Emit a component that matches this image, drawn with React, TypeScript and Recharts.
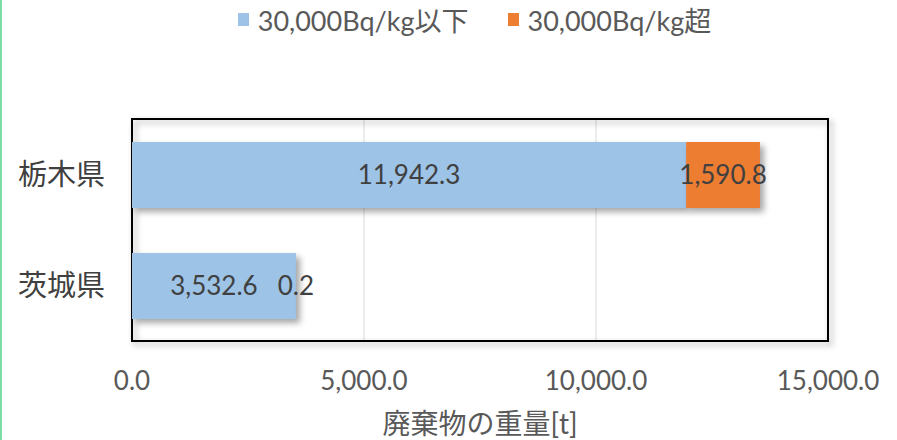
import React from 'react';
import {
    BarChart,
    Bar,
    XAxis,
    YAxis,
    CartesianGrid,
    Legend,
    LabelList,
    ReferenceArea,
} from 'recharts';

const prefectures = ['栃木県', '茨城県'];
const belowLimit = [11942.3, 3532.6];
const aboveLimit = [1590.8, 0.2];
const xTicks = [0, 5000, 10000, 15000];

const SERIES = [
    { key: 'below', name: '30,000Bq/kg以下', color: '#9DC3E6' },
    { key: 'above', name: '30,000Bq/kg超', color: '#ED7D31' },
];

const FONT = 'Lato, "Noto Sans CJK JP", sans-serif';

const data = prefectures.map((name, i) => ({
    name,
    below: belowLimit[i],
    above: aboveLimit[i],
}));

const fmt1 = (v: number) =>
    v.toLocaleString('en-US', { minimumFractionDigits: 1, maximumFractionDigits: 1 });

const ShadowBar = (props: any) => {
    const { x, y, width, height, fill } = props;
    if (!width || width <= 0) return <g />;
    return (
        <rect
            x={x}
            y={y}
            width={width}
            height={height}
            fill={fill}
            style={{ filter: 'drop-shadow(4px 4px 3px rgba(0,0,0,0.35))' }}
        />
    );
};

const PlotBorder = (props: any) => {
    const { x, y, width, height } = props;
    return (
        <rect
            x={x}
            y={y}
            width={width}
            height={height}
            fill="none"
            stroke="#000"
            strokeWidth={2}
            style={{ filter: 'drop-shadow(3px 3px 3px rgba(0,0,0,0.35))' }}
        />
    );
};

const LegendContent = () => (
    <div
        style={{
            display: 'flex',
            justifyContent: 'center',
            alignItems: 'center',
            paddingLeft: 52,
            fontFamily: FONT,
            fontSize: 27,
            color: '#595959',
        }}
    >
        {SERIES.map((s, i) => (
            <div
                key={s.key}
                style={{ display: 'flex', alignItems: 'center', marginLeft: i ? 39 : 0 }}
            >
                <span
                    style={{
                        display: 'inline-block',
                        width: 11,
                        height: 13,
                        background: s.color,
                        marginRight: 9,
                    }}
                />
                <span>{s.name}</span>
            </div>
        ))}
    </div>
);

export default function App() {
    return (
        <div style={{ position: 'absolute', left: 0, top: 0, width: 897, height: 440, background: '#fff' }}>
            {/* green edge on the left */}
            <div style={{ position: 'absolute', left: 0, top: 0, width: 2, height: 440, background: '#7DDBA8' }} />
            <BarChart
                width={897}
                height={440}
                data={data}
                layout="vertical"
                margin={{ top: 80, right: 69, bottom: 0, left: 0 }}
                style={{ fontFamily: FONT }}
            >
                <CartesianGrid horizontal={false} vertical stroke="#D9D9D9" />
                <XAxis
                    type="number"
                    domain={[0, 15000]}
                    ticks={xTicks}
                    tickFormatter={fmt1}
                    axisLine={false}
                    tickLine={false}
                    tickSize={0}
                    tickMargin={31}
                    height={99}
                    tick={{ fill: '#595959', fontSize: 26 }}
                    label={{
                        value: '廃棄物の重量[t]',
                        position: 'insideBottom',
                        offset: 6,
                        fill: '#595959',
                        fontSize: 28,
                    }}
                />
                <YAxis
                    type="category"
                    dataKey="name"
                    width={132}
                    axisLine={false}
                    tickLine={false}
                    tickSize={0}
                    tickMargin={27}
                    tick={{ fill: '#404040', fontSize: 29 }}
                />
                <Legend verticalAlign="top" wrapperStyle={{ top: 0, left: 0, width: 897 }} content={<LegendContent />} />
                {SERIES.map((s) => (
                    <Bar
                        key={s.key}
                        dataKey={s.key}
                        name={s.name}
                        stackId="a"
                        fill={s.color}
                        barSize={66}
                        isAnimationActive={false}
                        shape={<ShadowBar />}
                    >
                        <LabelList
                            dataKey={s.key}
                            position="center"
                            formatter={(v: any) => fmt1(Number(v))}
                            fill="#404040"
                            fontSize={26}
                        />
                    </Bar>
                ))}
                <ReferenceArea x1={0} x2={15000} shape={<PlotBorder />} ifOverflow="visible" />
            </BarChart>
        </div>
    );
}
